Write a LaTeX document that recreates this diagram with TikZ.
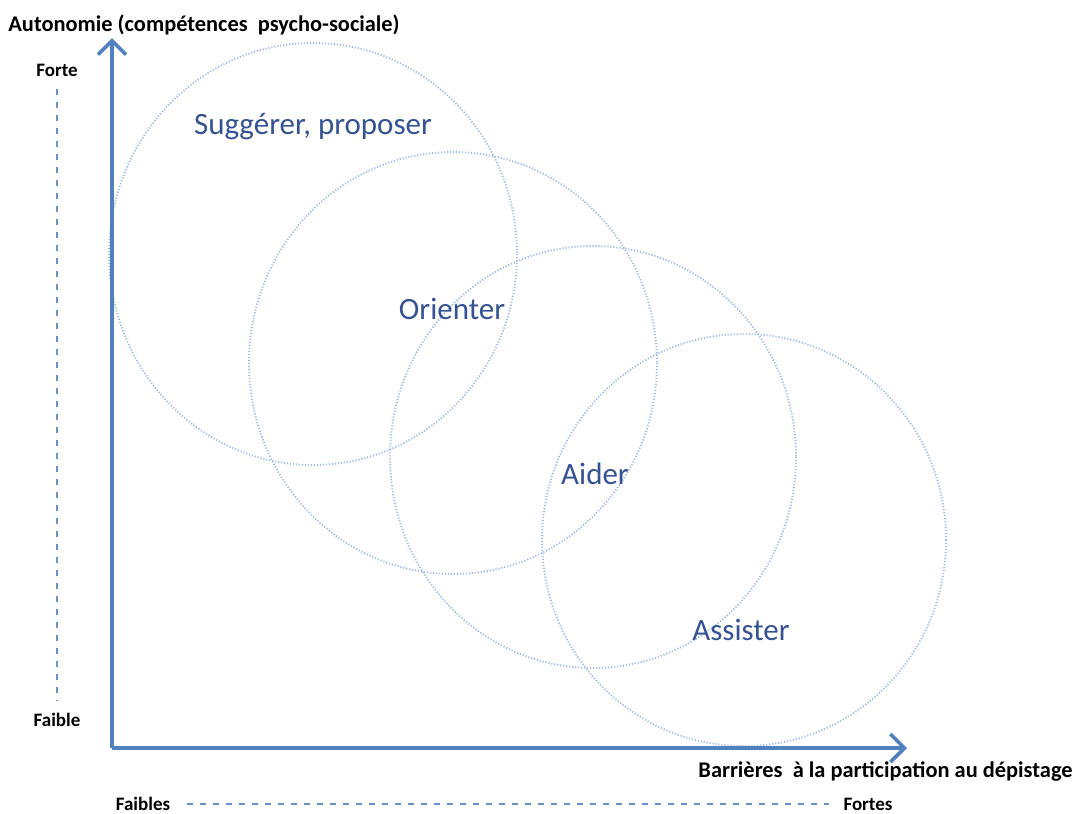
\documentclass[tikz,border=0pt]{standalone}
\usepackage{fontspec}
\setmainfont{Carlito}
\usetikzlibrary{arrows.meta}
\definecolor{axisblue}{RGB}{79,129,189}
\definecolor{ringblue}{RGB}{160,186,230}
\definecolor{wordblue}{RGB}{52,82,148}
\tikzset{
  axis/.style={draw=axisblue,line width=2pt,-{Straight Barb[length=7pt,width=14pt,line width=1.8pt]}},
  scale line/.style={draw=axisblue!85,line width=0.7pt,dash pattern=on 3pt off 3.5pt},
  zone/.style={draw=ringblue,line width=0.9pt,dash pattern=on 0.6pt off 0.9pt},
  tag/.style={font=\bfseries\fontsize{9.5}{11}\selectfont,inner sep=0pt},
  axis name/.style={font=\bfseries\fontsize{11.2}{13}\selectfont,inner sep=0pt},
  word/.style={font=\fontsize{15.5}{18}\selectfont,text=wordblue,inner sep=0pt}
}
\begin{document}
\begin{tikzpicture}[x=0.5pt,y=-0.5pt]
	\useasboundingbox (0,0) rectangle (1077,814);
	%\draw[help lines,step=100] (0,0) grid (1077,814);
	\coordinate (o) at (112,748);
	\coordinate (ytip) at (112,38);
	\coordinate (xtip) at (907,748);

	% the four zones
	\coordinate (c1) at (313,254);
	\coordinate (c2) at (453,363);
	\coordinate (c3) at (593,457);
	\coordinate (c4) at (744,540);
	\draw[zone] (c1) circle [x radius=204,y radius=211];
	\draw[zone] (c2) circle [x radius=204,y radius=211];
	\draw[zone] (c3) circle [x radius=203,y radius=211];
	\draw[zone] (c4) circle [x radius=202,y radius=206];
	\node[word] (sugg) at (313,127) {Suggérer, proposer};
	\node[word] (ori) at (452,309) {Orienter};
	\node[word] (aid) at (595,474) {Aider};
	\node[word] (ass) at (741,630) {Assister};

	% axes
	\draw[axis] (o)--(ytip);
	\draw[axis] (o)--(xtip);
	\node[axis name,anchor=west] (yname) at (8,25) {Autonomie (compétences\ \ psycho-sociale)};
	\node[axis name,anchor=east] (xname) at (1073,772) {Barrières\ \ à la participation au dépistage};

	% scales
	\node[tag] (forte) at (57,70) {Forte};
	\node[tag] (faible) at (57,720) {Faible};
	\draw[scale line] (forte.south)++(0,12) coordinate (ftop) (faible.north)++(0,-12) coordinate (fbot);
	\draw[scale line] (ftop)--(fbot);
	\node[tag] (faibles) at (143,804) {Faibles};
	\node[tag] (fortes) at (868,804) {Fortes};
	\draw[scale line] (faibles.east)++(16,0) coordinate (bleft) (fortes.west)++(-14,0) coordinate (bright);
	\draw[scale line] (bleft)--(bright);
\end{tikzpicture}
\end{document}
